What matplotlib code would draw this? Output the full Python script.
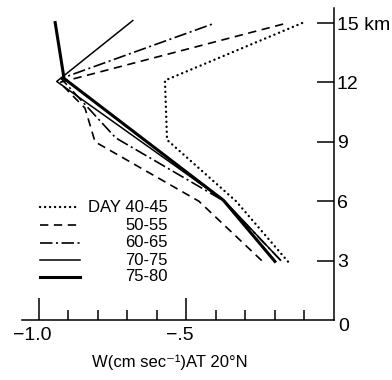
import matplotlib
matplotlib.use("Agg")
import matplotlib.pyplot as plt
from matplotlib.transforms import ScaledTranslation

plt.rcParams["font.family"] = ["Liberation Sans", "DejaVu Sans"]
plt.rcParams["lines.scale_dashes"] = False

# Vertical velocity W (cm/s) profiles against height (km), 5-day means
day_labels = ["DAY 40-45", "50-55", "60-65", "70-75", "75-80"]

z_40_45 = [2.95, 6.0, 9.1, 12.1, 15.0]
w_40_45 = [-0.156, -0.332, -0.566, -0.573, -0.108]

z_50_55 = [3.0, 6.0, 9.0, 10.7, 12.0, 15.0]
w_50_55 = [-0.245, -0.458, -0.81, -0.844, -0.93, -0.159]

z_60_65 = [3.0, 6.0, 9.2, 12.2, 15.0]
w_60_65 = [-0.18, -0.372, -0.74, -0.925, -0.403]

z_70_75 = [3.0, 6.0, 12.05, 15.15]
w_70_75 = [-0.18, -0.37, -0.94, -0.68]

z_75_80 = [2.9, 6.05, 12.2, 15.1]
w_75_80 = [-0.197, -0.375, -0.915, -0.946]

height_ticks = [3, 6, 9, 12, 15]
height_labels = ["3", "6", "9", "12", "15 km"]
w_major = [-1.0, -0.5]
w_major_labels = ["\u22121.0", "\u2212.5"]
w_minor = [-0.9, -0.8, -0.7, -0.6, -0.4, -0.3, -0.2, -0.1]

profiles = [(w_40_45, z_40_45), (w_50_55, z_50_55), (w_60_65, z_60_65),
            (w_70_75, z_70_75), (w_75_80, z_75_80)]

styles = [
    dict(color="black", lw=1.7, linestyle=(0, (0.1, 3.5)), dash_capstyle="round"),
    dict(color="black", lw=1.2, linestyle=(0, (6, 4))),
    dict(color="black", lw=1.2, linestyle=(0, (9, 2.5, 1.5, 2.5))),
    dict(color="black", lw=1.1, linestyle="-"),
    dict(color="black", lw=2.2, linestyle="-"),
]

fig = plt.figure(figsize=(3.92, 3.80), dpi=100)
ax = fig.add_axes([22 / 392, 60 / 380, 312 / 392, 312 / 380])
ax.set_xlim(-1.0576, 0.0)
ax.set_ylim(0.0, 15.76)

for (w, z), st in zip(profiles, styles):
    ax.plot(w, z, solid_capstyle="butt", **st)

# key in the lower left
key_rows = [0.362, 0.304, 0.247, 0.192, 0.138]
for label, st, fy in zip(day_labels, styles, key_rows):
    ax.plot([0.058, 0.186], [fy, fy], transform=ax.transAxes, **st)
    ax.text(0.468, fy, label, transform=ax.transAxes, ha="right",
            va="center", fontsize=12)

# axes frame: only the right (height) and bottom (W) axes
for side in ("left", "top"):
    ax.spines[side].set_visible(False)
for side in ("right", "bottom"):
    ax.spines[side].set_linewidth(1.1)

ax.yaxis.tick_right()
ax.set_yticks(height_ticks)
ax.set_yticklabels(height_labels)
ax.tick_params(axis="y", direction="in", length=12, width=1.1, pad=2,
               labelsize=14)

ax.set_xticks(w_major)
ax.set_xticklabels(w_major_labels)
ax.set_xticks(w_minor, minor=True)
ax.tick_params(axis="x", which="major", direction="in", length=15.5,
               width=1.1, pad=5, labelsize=14)
ax.tick_params(axis="x", which="minor", direction="in", length=7, width=1.1)
for lab in ax.get_xticklabels():
    lab.set_transform(lab.get_transform()
                      + ScaledTranslation(-5 / 72, 0, fig.dpi_scale_trans))

ax.text(1.0, -0.35, "0", fontsize=14, ha="left", va="center",
        transform=ax.get_yaxis_transform()
        + ScaledTranslation(3 / 72, 0, fig.dpi_scale_trans))

ax.set_xlabel("W(cm sec\u207b\u00b9)AT 20\u00b0N", fontsize=12)
ax.xaxis.set_label_coords(0.474, -0.11)

fig.savefig("out.png", dpi=100)
